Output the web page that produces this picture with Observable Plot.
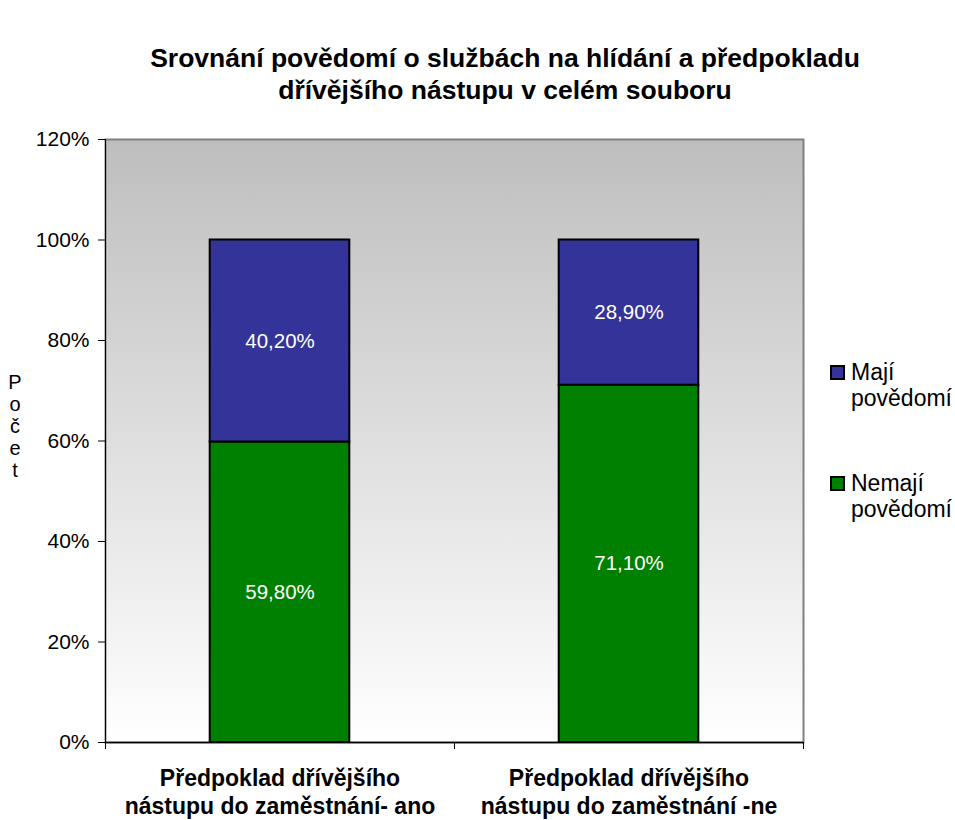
<!DOCTYPE html>
<html>
<head>
<meta charset="utf-8">
<script src="https://cdn.jsdelivr.net/npm/d3@7"></script>
<script src="https://cdn.jsdelivr.net/npm/@observablehq/plot@0.6"></script>
<style>
  html, body { margin: 0; padding: 0; background: #ffffff; }
  #chart { position: relative; width: 955px; height: 820px; font-family: Arial, "Liberation Sans", sans-serif; }
  #chart svg { position: absolute; left: 0; top: 0; }
  #title { position: absolute; left: 5px; width: 1000px; top: 42px; text-align: center; font-weight: bold; font-size: 26.5px; line-height: 32px; color: #000; }
  #ylabel { position: absolute; left: 5px; top: 371px; width: 20px; text-align: center; font-size: 20px; line-height: 22px; color: #000; }
  #legend { position: absolute; left: 830px; top: 359px; font-size: 23px; line-height: 26px; color: #000; white-space: nowrap; }
  .li { position: relative; padding-left: 21px; margin-bottom: 59px; }
  .sw { position: absolute; left: 0; top: 6px; width: 15px; height: 15px; border: 2px solid #000; box-sizing: border-box; }
</style>
</head>
<body>
<div id="chart">
  <div id="title">Srovnání povědomí o službách na hlídání a předpokladu<br>dřívějšího nástupu v celém souboru</div>
  <div id="ylabel">P<br>o<br>č<br>e<br>t</div>
  <div id="legend"></div>
</div>
<script>
const categories = ["Předpoklad dřívějšího\nnástupu do zaměstnání- ano", "Předpoklad dřívějšího\nnástupu do zaměstnání -ne"];
const seriesNames = ["Nemají povědomí", "Mají povědomí"];
const nemaji = [59.8, 71.1];
const maji = [40.2, 28.9];
const yTicks = [0, 20, 40, 60, 80, 100, 120];
const colors = {"Nemají povědomí": "#008000", "Mají povědomí": "#333399"};

const rows = [];
categories.forEach((c, i) => {
  rows.push({i, series: seriesNames[0], y1: 0, y2: nemaji[i], value: nemaji[i]});
  rows.push({i, series: seriesNames[1], y1: nemaji[i], y2: nemaji[i] + maji[i], value: maji[i]});
});
const fmt = v => v.toFixed(2).replace(".", ",") + "%";

const defs = () => {
  const d = d3.create("svg:defs");
  const g = d.append("linearGradient").attr("id", "bggrad").attr("x1", 0).attr("y1", 0).attr("x2", 0).attr("y2", 1);
  g.append("stop").attr("offset", "0%").attr("stop-color", "#bebebe");
  g.append("stop").attr("offset", "100%").attr("stop-color", "#ffffff");
  return d.node();
};

const chart = Plot.plot({
  width: 955,
  height: 820,
  marginLeft: 105,
  marginRight: 152,
  marginTop: 139,
  marginBottom: 78,
  style: {fontFamily: "Arial, 'Liberation Sans', sans-serif", background: "transparent", color: "#000"},
  x: {type: "linear", domain: [0, 2], axis: null},
  y: {domain: [0, 120], axis: null},
  marks: [
    defs,
    Plot.frame({fill: "url(#bggrad)", stroke: "#808080", strokeWidth: 2}),
    Plot.rect(rows, {x1: d => d.i + 0.3, x2: d => d.i + 0.7, y1: "y1", y2: "y2", fill: d => colors[d.series], stroke: "#000", strokeWidth: 2}),
    Plot.text(rows, {x: d => d.i + 0.5, y: d => (d.y1 + d.y2) / 2, text: d => fmt(d.value), fill: "#ffffff", fontSize: 20.5}),
    Plot.ruleX([0], {stroke: "#000", strokeWidth: 1}),
    Plot.ruleY([0], {stroke: "#000", strokeWidth: 1.5}),
    Plot.axisY({ticks: yTicks, tickFormat: d => d + "%", tickSize: 7, tickPadding: 9, fontSize: 21, stroke: "#000"}),
    Plot.axisX({ticks: [0, 1, 2], tickFormat: () => "", tickSize: 7, stroke: "#000"}),
    Plot.axisX({ticks: [0.5, 1.5], tickFormat: d => categories[Math.floor(d)], tickSize: 0, tickPadding: 24, fontSize: 23, fontWeight: "bold", lineHeight: 1.2})
  ]
});
document.getElementById("chart").appendChild(chart);

const legend = document.getElementById("legend");
[seriesNames[1], seriesNames[0]].forEach(s => {
  const item = document.createElement("div");
  item.className = "li";
  const sw = document.createElement("span");
  sw.className = "sw";
  sw.style.background = colors[s];
  item.appendChild(sw);
  const parts = s.split(" ");
  const t = document.createElement("div");
  t.innerHTML = parts[0] + "<br>" + parts[1];
  item.appendChild(t);
  legend.appendChild(item);
});
</script>
</body>
</html>
